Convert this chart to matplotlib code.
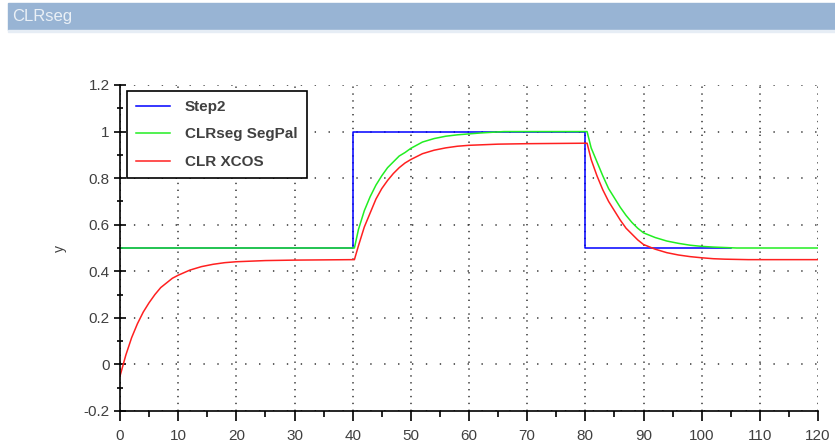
import matplotlib
matplotlib.use("Agg")
import matplotlib.pyplot as plt
from matplotlib.patches import Rectangle
from matplotlib.ticker import MultipleLocator

plt.rcParams['font.family'] = ['Liberation Sans', 'DejaVu Sans']

# Step2 (reference step)
step_t = [0, 40, 40, 80, 80, 105]
step_y = [0.5, 0.5, 1.0, 1.0, 0.5, 0.5]

# CLRseg SegPal response
seg_t = [0, 40, 40.3, 41, 42, 43, 44, 45, 46, 47, 48, 49, 50, 52, 54, 56, 58, 60, 62, 64, 66,
         80, 80.3, 81, 82, 83, 84, 85, 86, 87, 88, 89, 90, 92, 94, 96, 98, 100, 102, 104, 106, 120]
seg_y = [0.5, 0.5, 0.5, 0.58, 0.66, 0.72, 0.77, 0.81, 0.845, 0.87, 0.895, 0.91, 0.928, 0.955,
         0.97, 0.98, 0.986, 0.99, 0.994, 0.997, 1.0,
         1.0, 1.0, 0.93, 0.87, 0.81, 0.755, 0.715, 0.675, 0.64, 0.61, 0.585, 0.565, 0.545, 0.53,
         0.52, 0.512, 0.507, 0.504, 0.502, 0.5, 0.5]

# CLR XCOS response
xcos_t = [0, 1, 2, 3, 4, 5, 6, 7, 8, 9, 10, 12, 14, 16, 18, 20, 25, 30, 35,
          40, 40.3, 41, 42, 43, 44, 45, 46, 47, 48, 49, 50, 52, 54, 56, 58, 60, 65, 70, 75,
          80, 80.3, 81, 82, 83, 84, 85, 86, 87, 88, 89, 90, 92, 94, 96, 98, 100, 102, 104, 108, 120]
xcos_y = [-0.05, 0.04, 0.115, 0.175, 0.225, 0.265, 0.30, 0.33, 0.35, 0.37, 0.383, 0.405, 0.42,
          0.43, 0.437, 0.441, 0.446, 0.448, 0.449,
          0.45, 0.45, 0.51, 0.59, 0.65, 0.71, 0.755, 0.79, 0.82, 0.845, 0.865, 0.88, 0.905, 0.92,
          0.93, 0.937, 0.941, 0.946, 0.948, 0.949,
          0.95, 0.95, 0.88, 0.81, 0.75, 0.70, 0.66, 0.62, 0.585, 0.56, 0.535, 0.515, 0.495, 0.48,
          0.47, 0.463, 0.458, 0.454, 0.452, 0.45, 0.45]

yticks = [-0.2, 0, 0.2, 0.4, 0.6, 0.8, 1.0, 1.2]
ytick_labels = ['-0.2', '0', '0.2', '0.4', '0.6', '0.8', '1', '1.2']

fig = plt.figure(figsize=(8.35, 4.47), dpi=100)

# window title bar
fig.patches.append(Rectangle((8 / 835, 1 - 30 / 447), 827 / 835, 27 / 447,
                             transform=fig.transFigure, color='#98b4d4', zorder=0))
fig.patches.append(Rectangle((8 / 835, 1 - 32 / 447), 827 / 835, 2 / 447,
                             transform=fig.transFigure, color='#e6edf5', zorder=0))
fig.text(12 / 835, 1 - 17 / 447, 'CLRseg', color='#eaf0f6', fontsize=12, va='center', ha='left')

ax = fig.add_axes([120 / 835, 1 - 411 / 447, 698 / 835, 326 / 447])

ax.plot(step_t, step_y, color='#0000ff', lw=1.1, label='Step2')
ax.plot(seg_t, seg_y, color='#22ee22', lw=1.1, label='CLRseg SegPal')
ax.plot(xcos_t, xcos_y, color='#ff2020', lw=1.1, label='CLR XCOS')

ax.set_xlim(0, 120)
ax.set_ylim(-0.2, 1.2)
ax.xaxis.set_major_locator(MultipleLocator(10))
ax.xaxis.set_minor_locator(MultipleLocator(5))
ax.set_yticks(yticks)
ax.set_yticklabels(ytick_labels)
ax.yaxis.set_minor_locator(MultipleLocator(0.1))

ax.spines['top'].set_visible(False)
ax.spines['right'].set_visible(False)
ax.spines['left'].set_linewidth(1.2)
ax.spines['bottom'].set_linewidth(1.2)
ax.tick_params(axis='x', which='major', direction='out', length=7, width=1.2,
               labelsize=11, labelcolor='#404040', pad=6)
ax.tick_params(axis='x', which='minor', direction='out', length=4, width=1.2)
ax.tick_params(axis='y', which='major', direction='inout', length=9, width=1.2,
               labelsize=11, labelcolor='#404040', pad=3)
ax.tick_params(axis='y', which='minor', direction='inout', length=5, width=1.2)

# dotted grid: vertical lines have tighter dots than horizontal ones
ax.xaxis.grid(True, which='major', color='#333333', linestyle=(0, (0.9, 3.6)), linewidth=1.1)
ax.yaxis.grid(True, which='major', color='#333333', linestyle=(0, (0.9, 8.2)), linewidth=1.1)
ax.set_axisbelow(True)
ax.set_ylabel('y', fontsize=10, color='#404040', labelpad=12)

leg = ax.legend(loc='upper left', bbox_to_anchor=(0.01, 0.982), fancybox=False,
                framealpha=1, edgecolor='black', fontsize=11, handlelength=2.2,
                borderpad=0.6, labelspacing=0.88, handletextpad=1.0, borderaxespad=0)
leg.get_frame().set_linewidth(1.2)
for txt in leg.get_texts():
    txt.set_color('#404040')
    txt.set_fontweight('bold')

fig.savefig('out.png', dpi=100)
